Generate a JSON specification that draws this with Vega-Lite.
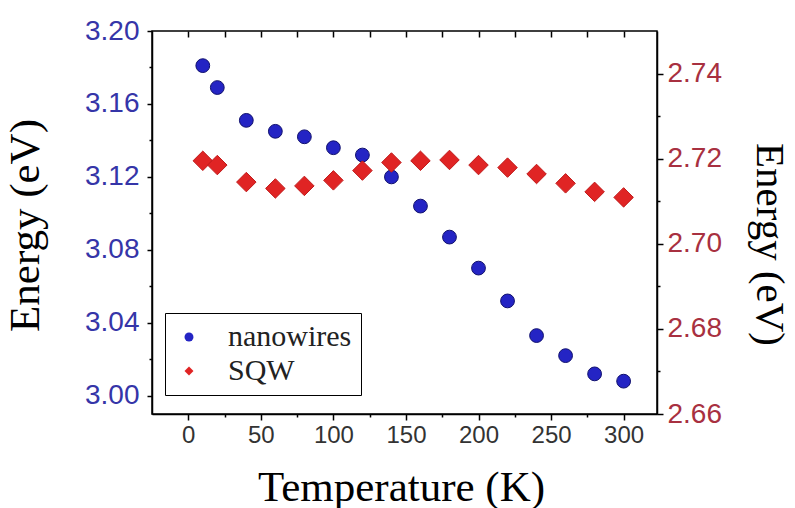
{
  "$schema": "https://vega.github.io/schema/vega-lite/v6.json",
  "width": 505,
  "height": 383,
  "autosize": {"type": "none"},
  "padding": {"left": 152, "top": 31, "right": 138, "bottom": 94},
  "background": "white",
  "config": {
    "view": {"stroke": "black", "strokeWidth": 1.5},
    "axis": {"grid": false, "domainColor": "black", "domainWidth": 1.5, "tickColor": "black", "tickWidth": 1.5}
  },
  "data": {
    "values": [
      {"T": 10, "series": "nanowires", "E": 3.181},
      {"T": 20, "series": "nanowires", "E": 3.169},
      {"T": 40, "series": "nanowires", "E": 3.151},
      {"T": 60, "series": "nanowires", "E": 3.145},
      {"T": 80, "series": "nanowires", "E": 3.142},
      {"T": 100, "series": "nanowires", "E": 3.136},
      {"T": 120, "series": "nanowires", "E": 3.132},
      {"T": 140, "series": "nanowires", "E": 3.120},
      {"T": 160, "series": "nanowires", "E": 3.104},
      {"T": 180, "series": "nanowires", "E": 3.087},
      {"T": 200, "series": "nanowires", "E": 3.070},
      {"T": 220, "series": "nanowires", "E": 3.052},
      {"T": 240, "series": "nanowires", "E": 3.033},
      {"T": 260, "series": "nanowires", "E": 3.022},
      {"T": 280, "series": "nanowires", "E": 3.012},
      {"T": 300, "series": "nanowires", "E": 3.008},
      {"T": 10, "series": "SQW", "E": 2.7195},
      {"T": 20, "series": "SQW", "E": 2.7185},
      {"T": 40, "series": "SQW", "E": 2.7145},
      {"T": 60, "series": "SQW", "E": 2.7130},
      {"T": 80, "series": "SQW", "E": 2.7136},
      {"T": 100, "series": "SQW", "E": 2.7149},
      {"T": 120, "series": "SQW", "E": 2.7172},
      {"T": 140, "series": "SQW", "E": 2.7191},
      {"T": 160, "series": "SQW", "E": 2.7195},
      {"T": 180, "series": "SQW", "E": 2.7197},
      {"T": 200, "series": "SQW", "E": 2.7185},
      {"T": 220, "series": "SQW", "E": 2.7179},
      {"T": 240, "series": "SQW", "E": 2.7164},
      {"T": 260, "series": "SQW", "E": 2.7142},
      {"T": 280, "series": "SQW", "E": 2.7122},
      {"T": 300, "series": "SQW", "E": 2.7109}
    ]
  },
  "resolve": {"scale": {"x": "independent", "y": "independent"}, "axis": {"x": "independent", "y": "independent"}},
  "layer": [
    {
      "transform": [{"filter": "datum.series === 'nanowires'"}],
      "mark": {"type": "point", "filled": true, "size": 190, "opacity": 1, "stroke": "#10106e", "strokeWidth": 1},
      "encoding": {
        "x": {
          "field": "T", "type": "quantitative",
          "scale": {"domain": [-25, 323], "nice": false, "zero": false},
          "axis": {
            "orient": "bottom",
            "values": [0, 25, 50, 75, 100, 125, 150, 175, 200, 225, 250, 275, 300],
            "labelExpr": "datum.value % 50 === 0 ? datum.label : ''",
            "tickSize": {"condition": {"test": "datum.value % 50 === 0", "value": 6}, "value": 3},
            "labelFont": "Liberation Sans", "labelFontSize": 24, "labelColor": "#333333", "labelPadding": 3,
            "title": "Temperature (K)",
            "titleFont": "Liberation Serif", "titleFontSize": 43, "titleFontWeight": "normal", "titleColor": "black",
            "titleX": 249, "titleY": 86, "titleBaseline": "alphabetic"
          }
        },
        "y": {
          "field": "E", "type": "quantitative",
          "scale": {"domain": [2.99, 3.2], "nice": false, "zero": false},
          "axis": {
            "orient": "left",
            "values": [3.0, 3.02, 3.04, 3.06, 3.08, 3.1, 3.12, 3.14, 3.16, 3.18, 3.2],
            "format": ".2f",
            "labelExpr": "round(datum.value * 100) % 4 === 0 ? datum.label : ''",
            "tickSize": {"condition": {"test": "round(datum.value * 100) % 4 === 0", "value": 5}, "value": 3},
            "labelFont": "Liberation Sans", "labelFontSize": 28, "labelColor": "#3535a8", "labelPadding": 8,
            "title": "Energy (eV)",
            "titleFont": "Liberation Serif", "titleFontSize": 43, "titleFontWeight": "normal", "titleColor": "black",
            "titleX": -114, "titleY": 194, "titleAngle": -90, "titleBaseline": "alphabetic", "titleAlign": "center"
          }
        },
        "color": {
          "field": "series", "type": "nominal",
          "scale": {"domain": ["nanowires", "SQW"], "range": ["#2424c4", "#e02424"]},
          "legend": {
            "orient": "none", "legendX": 13, "legendY": 282, "title": null,
            "strokeColor": "black", "fillColor": "white",
            "padding": 9, "labelFont": "Liberation Serif", "labelFontSize": 30, "labelColor": "#222222",
            "symbolSize": 80, "labelOffset": 24, "rowPadding": 4, "symbolStrokeWidth": 0,
            "labelLimit": 300
          }
        },
        "shape": {
          "field": "series", "type": "nominal",
          "scale": {"domain": ["nanowires", "SQW"], "range": ["circle", "diamond"]},
          "legend": null
        }
      }
    },
    {
      "transform": [{"filter": "datum.series === 'SQW'"}],
      "mark": {"type": "point", "filled": true, "size": 380, "opacity": 1, "stroke": "#c01c1c", "strokeWidth": 1},
      "encoding": {
        "x": {
          "field": "T", "type": "quantitative",
          "scale": {"domain": [-25, 323], "nice": false, "zero": false},
          "axis": {
            "orient": "top",
            "values": [0, 25, 50, 75, 100, 125, 150, 175, 200, 225, 250, 275, 300],
            "labels": false,
            "domain": false,
            "ticks": true,
            "offset": -6,
            "tickSize": 6,
            "title": null
          }
        },
        "y": {
          "field": "E", "type": "quantitative",
          "scale": {"domain": [2.66, 2.75], "nice": false, "zero": false},
          "axis": {
            "orient": "right",
            "values": [2.66, 2.67, 2.68, 2.69, 2.7, 2.71, 2.72, 2.73, 2.74],
            "format": ".2f",
            "labelExpr": "round(datum.value * 100) % 2 === 0 ? datum.label : ''",
            "tickSize": {"condition": {"test": "round(datum.value * 100) % 2 === 0", "value": 6}, "value": 3},
            "labelFont": "Liberation Sans", "labelFontSize": 28, "labelColor": "#a83040", "labelPadding": 4,
            "title": "Energy (eV)",
            "titleFont": "Liberation Serif", "titleFontSize": 41, "titleFontWeight": "normal", "titleColor": "black",
            "titleX": 99, "titleY": 213, "titleAngle": 90, "titleBaseline": "alphabetic", "titleAlign": "center"
          }
        },
        "color": {
          "field": "series", "type": "nominal",
          "scale": {"domain": ["nanowires", "SQW"], "range": ["#2424c4", "#e02424"]}
        },
        "shape": {
          "field": "series", "type": "nominal",
          "scale": {"domain": ["nanowires", "SQW"], "range": ["circle", "diamond"]},
          "legend": null
        }
      }
    }
  ]
}
